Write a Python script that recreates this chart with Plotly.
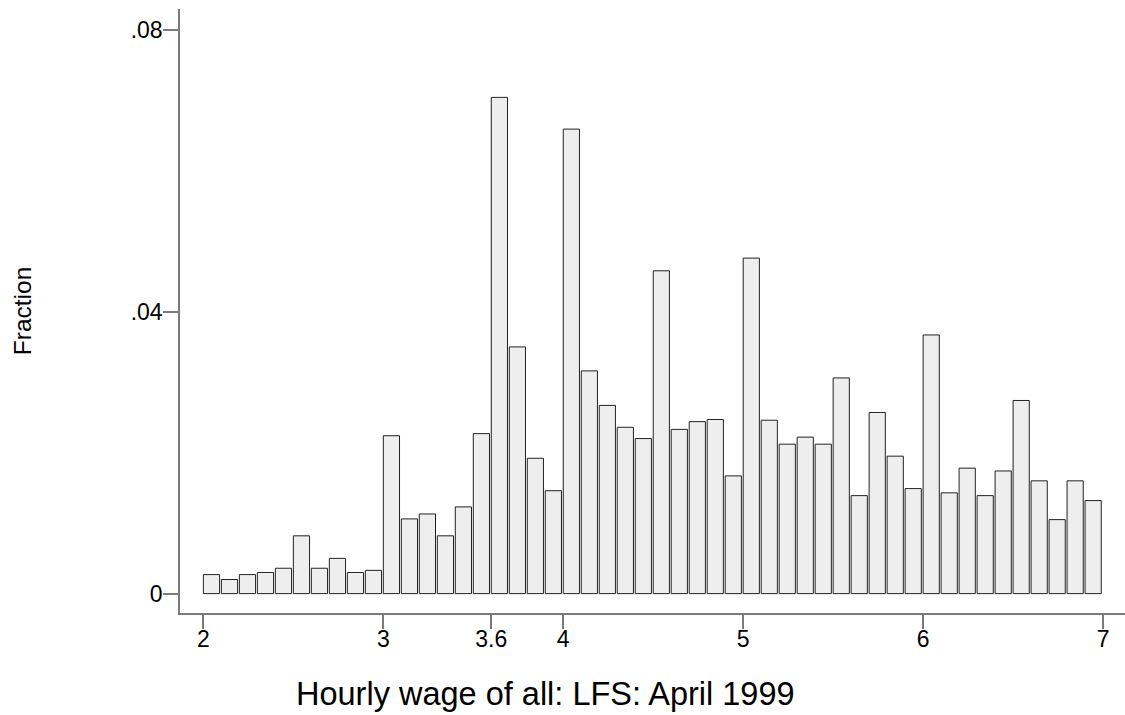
import plotly.graph_objects as go

# Histogram of hourly wages (bin width 0.1, from 2.0 to 7.0)
bin_starts = [2.0, 2.1, 2.2, 2.3, 2.4, 2.5, 2.6, 2.7, 2.8, 2.9,
              3.0, 3.1, 3.2, 3.3, 3.4, 3.5, 3.6, 3.7, 3.8, 3.9,
              4.0, 4.1, 4.2, 4.3, 4.4, 4.5, 4.6, 4.7, 4.8, 4.9,
              5.0, 5.1, 5.2, 5.3, 5.4, 5.5, 5.6, 5.7, 5.8, 5.9,
              6.0, 6.1, 6.2, 6.3, 6.4, 6.5, 6.6, 6.7, 6.8, 6.9]
fractions = [0.0027, 0.0020, 0.0027, 0.0030, 0.0036, 0.0082, 0.0036, 0.0050, 0.0030, 0.0033,
             0.0224, 0.0106, 0.0113, 0.0082, 0.0123, 0.0227, 0.0704, 0.0350, 0.0192, 0.0146,
             0.0659, 0.0316, 0.0267, 0.0236, 0.0220, 0.0458, 0.0233, 0.0244, 0.0247, 0.0167,
             0.0476, 0.0246, 0.0212, 0.0222, 0.0212, 0.0306, 0.0139, 0.0257, 0.0195, 0.0149,
             0.0367, 0.0143, 0.0178, 0.0139, 0.0174, 0.0274, 0.0160, 0.0105, 0.0160, 0.0132]

x_tickvals = [2, 3, 3.6, 4, 5, 6, 7]
x_ticktext = ["2", "3", "3.6", "4", "5", "6", "7"]
y_tickvals = [0, 0.04, 0.08]
y_ticktext = ["0", ".04", ".08"]

x_title = "Hourly wage of all: LFS: April 1999"
y_title = "Fraction"

FONT = "Liberation Sans, Arial, sans-serif"
AXIS_COL = "#7a7a7a"

fig = go.Figure()
fig.add_trace(go.Bar(
    x=bin_starts, y=fractions,
    width=0.09, offset=0,
    marker=dict(color="#eeeeee", line=dict(color="#222222", width=1)),
    showlegend=False,
))

fig.update_layout(
    width=1125, height=715,
    margin=dict(l=180, r=0, t=9, b=102),
    plot_bgcolor="white", paper_bgcolor="white",
    font=dict(family=FONT, color="black", size=23),
    xaxis=dict(
        range=[1.87, 7.122], showgrid=False, zeroline=False,
        showline=True, linecolor=AXIS_COL, linewidth=1.5,
        ticks="outside", ticklen=5, tickcolor="rgba(0,0,0,0)", tickwidth=1.5,
        tickvals=x_tickvals, ticktext=x_ticktext,
        tickfont=dict(size=23, family=FONT),
        minor=dict(tickvals=x_tickvals, ticks="outside", ticklen=14,
                   tickcolor=AXIS_COL, tickwidth=1.5, showgrid=False),
    ),
    yaxis=dict(
        range=[-0.00275, 0.08294], showgrid=False, zeroline=False,
        showline=True, linecolor=AXIS_COL, linewidth=1.5,
        ticks="outside", ticklen=11, tickcolor="rgba(0,0,0,0)", tickwidth=1.5,
        tickvals=y_tickvals, ticktext=y_ticktext,
        tickfont=dict(size=23, family=FONT),
        minor=dict(tickvals=y_tickvals, ticks="outside", ticklen=15,
                   tickcolor=AXIS_COL, tickwidth=1.5, showgrid=False),
    ),
    annotations=[
        dict(text=x_title, xref="paper", yref="paper", x=0.387, y=-0.134,
             xanchor="center", yanchor="middle", showarrow=False,
             font=dict(size=32.5, family=FONT, color="black")),
        dict(text=y_title, xref="paper", yref="paper", x=-0.167, y=0.5,
             xanchor="center", yanchor="middle", showarrow=False, textangle=-90,
             font=dict(size=24.5, family=FONT, color="black")),
    ],
)

fig.write_html(
    "out.html",
    config={"displayModeBar": False},
    post_script="document.body.style.margin='0';document.body.style.overflow='hidden';",
)
